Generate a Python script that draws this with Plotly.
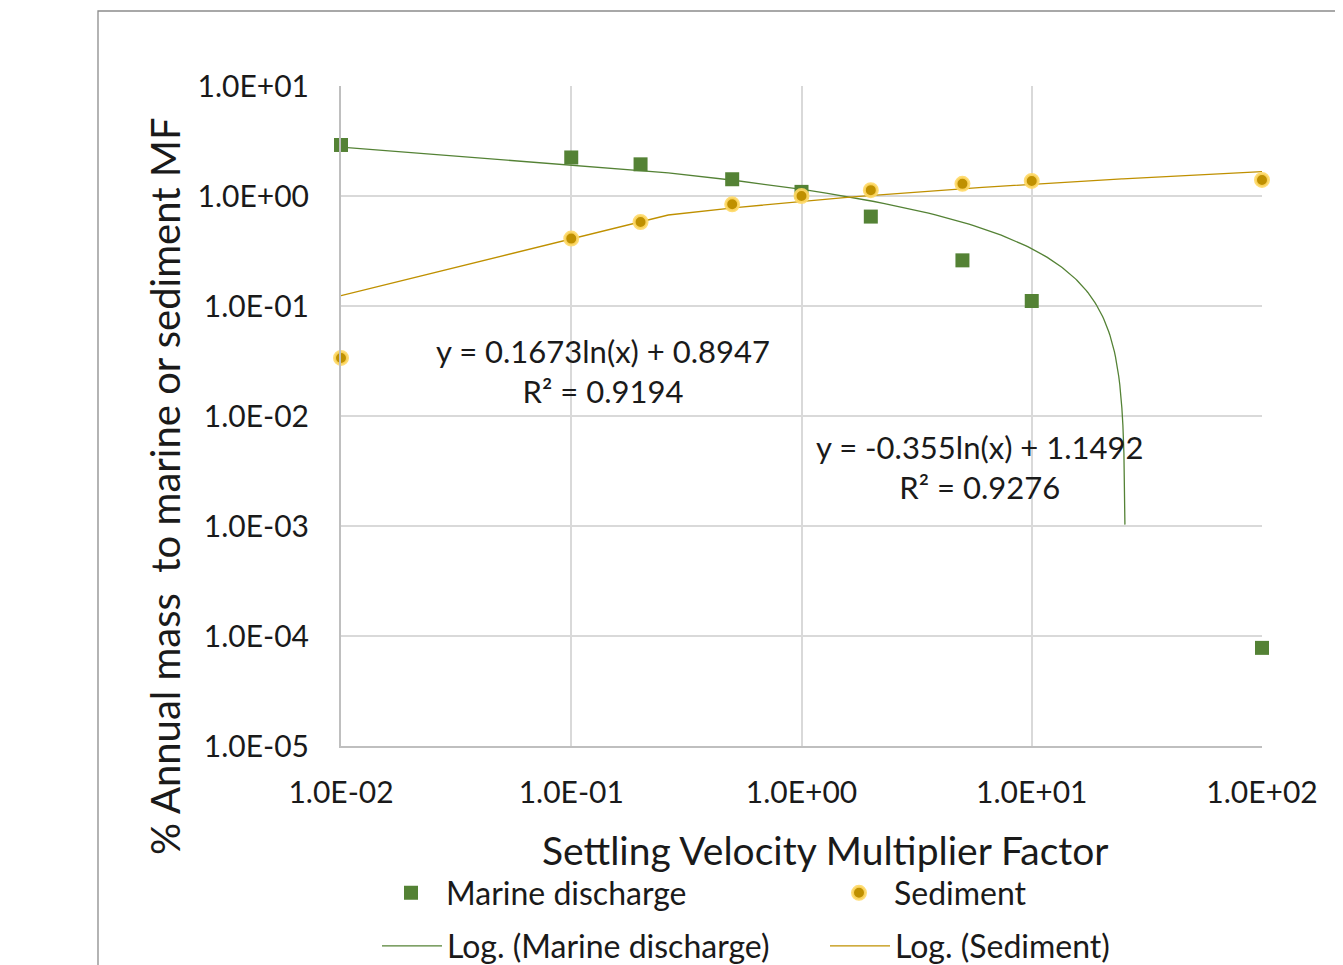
import numpy as np
import plotly.graph_objects as go

# ---- data ----
x_vals = [0.01, 0.1, 0.2, 0.5, 1, 2, 5, 10, 100]
marine = [2.91, 2.24, 1.94, 1.42, 1.09, 0.65, 0.26, 0.111, 7.8e-5]
sediment = [0.0337, 0.41, 0.58, 0.84, 1.0, 1.13, 1.29, 1.37, 1.40]

# logarithmic trendlines shown on the chart: y = a ln(x) + b
marine_a, marine_b, marine_r2 = -0.355, 1.1492, 0.9276
sed_a, sed_b, sed_r2 = 0.1673, 0.8947, 0.9194
trend_samples = 395  # the spreadsheet samples the trendline evenly in x

x_ticks = [0.01, 0.1, 1, 10, 100]
x_ticktext = ["1.0E-02", "1.0E-01", "1.0E+00", "1.0E+01", "1.0E+02"]
y_ticks = [1e-5, 1e-4, 1e-3, 1e-2, 1e-1, 1, 10]
y_ticktext = ["1.0E-05", "1.0E-04", "1.0E-03", "1.0E-02", "1.0E-01", "1.0E+00", "1.0E+01"]

x_title = "Settling Velocity Multiplier Factor"
y_title = "% Annual mass \u00a0to marine or sediment MF"

GREEN = "#548235"
GOLD = "#BF9000"
TEXT = "#1a1a1a"
FONT = "Lato"

xs = np.linspace(min(x_vals), max(x_vals), trend_samples)
marine_trend = marine_a * np.log(xs) + marine_b
keep = marine_trend > 0
sed_trend = sed_a * np.log(xs) + sed_b

fig = go.Figure()
fig.add_trace(go.Scatter(
    x=xs[keep], y=marine_trend[keep], mode="lines",
    line=dict(color=GREEN, width=1.3), name="Log. (Marine discharge)",
    legend="legend3"))
fig.add_trace(go.Scatter(
    x=xs, y=sed_trend, mode="lines",
    line=dict(color=GOLD, width=1.3), name="Log. (Sediment)",
    legend="legend4"))
fig.add_trace(go.Scatter(
    x=x_vals, y=marine, mode="markers", name="Marine discharge",
    marker=dict(symbol="square", size=14, color=GREEN, line=dict(width=0)),
    cliponaxis=False, legend="legend"))
fig.add_trace(go.Scatter(
    x=x_vals, y=sediment, mode="markers", name="Sediment",
    marker=dict(symbol="circle", size=13, color=GOLD,
                line=dict(color="rgba(255,217,102,0.9)", width=3)),
    cliponaxis=False, legend="legend2"))

axis_common = dict(
    type="log", showgrid=True, gridcolor="#d9d9d9", gridwidth=2,
    showline=True, linecolor="#bfbfbf", linewidth=2, mirror=False,
    ticks="", tickfont=dict(family=FONT, size=30, color=TEXT),
    zeroline=False,
)

fig.update_xaxes(**axis_common, range=[-2, 2], tickvals=x_ticks,
                 ticktext=x_ticktext, ticklabelstandoff=19)
fig.update_yaxes(**axis_common, range=[-5, 1], tickvals=y_ticks,
                 ticktext=y_ticktext, ticklabelstandoff=24)

# page body adds an 8px offset; margins compensate so the plot sits where the reference has it
OFF = 8
L, T, PW, PH = 341 - OFF, 86 - OFF, 921, 660


def px_x(p):
    return (p - OFF - L) / PW


def px_y(p):
    return (T + PH - (p - OFF)) / PH


legend_common = dict(
    orientation="h", font=dict(family=FONT, size=32, color=TEXT),
    bgcolor="rgba(0,0,0,0)", xanchor="left", yanchor="middle",
    itemwidth=60,
)
fig.update_layout(
    width=1343, height=965,
    margin=dict(l=L, r=1343 - L - PW, t=T, b=965 - T - PH, autoexpand=False),
    paper_bgcolor="white", plot_bgcolor="white",
    showlegend=True,
    legend=dict(**legend_common, x=px_x(376), y=px_y(893)),
    legend2=dict(**legend_common, x=px_x(824), y=px_y(893)),
    legend3=dict(**legend_common, x=px_x(377), y=px_y(946)),
    legend4=dict(**legend_common, x=px_x(825), y=px_y(946)),
    font=dict(family=FONT, color=TEXT),
)

# axis titles (placed where the reference has them)
fig.add_annotation(
    xref="paper", yref="paper", x=px_x(825), y=px_y(850), text=x_title,
    showarrow=False, font=dict(family=FONT, size=39, color=TEXT),
    xanchor="center", yanchor="middle")
fig.add_annotation(
    xref="paper", yref="paper", x=px_x(165), y=px_y(486), text=y_title,
    textangle=-90, showarrow=False, font=dict(family=FONT, size=40, color=TEXT),
    xanchor="center", yanchor="middle")

ann_font = dict(family=FONT, size=31, color=TEXT)
fig.add_annotation(
    xref="paper", yref="paper", x=px_x(603), y=px_y(371),
    text=f"y = {sed_a}ln(x) + {sed_b}<br>R² = {sed_r2}", showarrow=False,
    font=ann_font, align="center", xanchor="center", yanchor="middle")
fig.add_annotation(
    xref="paper", yref="paper", x=px_x(980), y=px_y(467),
    text=f"y = {marine_a}ln(x) + {marine_b}<br>R² = {marine_r2}", showarrow=False,
    font=ann_font, align="center", xanchor="center", yanchor="middle")

# chart-area border
fig.add_shape(type="rect", xref="paper", yref="paper",
              x0=px_x(98), x1=px_x(1336), y0=px_y(990), y1=px_y(11),
              line=dict(color="#8c8c8c", width=1.3), layer="below")

fig.write_html("out.html")
